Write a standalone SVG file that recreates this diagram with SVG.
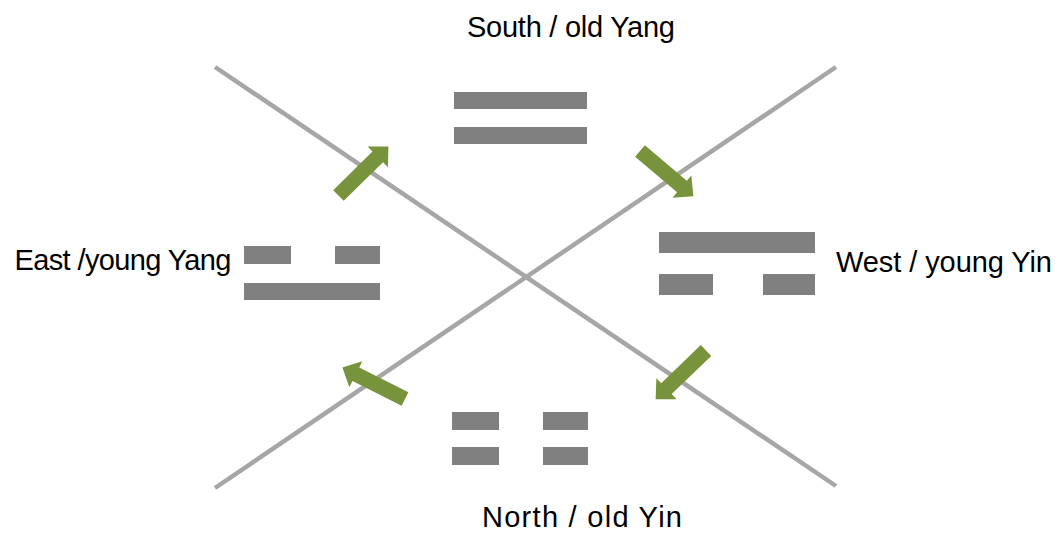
<svg xmlns="http://www.w3.org/2000/svg" width="1058" height="533" viewBox="0 0 1058 533">
<style>
.bar{fill:#808080;filter:url(#soft)}
.axis{stroke:#a6a6a6;stroke-width:4.5;fill:none}
.arr{fill:#77933c}
.lbl{font-family:"Liberation Sans",Arial,sans-serif;font-size:29px;fill:#000}
</style>
<defs>
<filter id="soft" x="-5%" y="-20%" width="110%" height="140%"><feGaussianBlur stdDeviation="0.6"/></filter>
<path id="blockArrow" d="M0,-7.5 L55,-7.5 L55,-14.5 L70,0 L55,14.5 L55,7.5 L0,7.5 Z"/>
</defs>
<g id="connectors">
<line class="axis" x1="215" y1="67" x2="836" y2="486"/>
<line class="axis" x1="836" y1="67" x2="215" y2="488"/>
<use href="#blockArrow" class="arr" transform="translate(338.5,195.5) rotate(-44.5)"/>
<use href="#blockArrow" class="arr" transform="translate(640,151) rotate(40.3)"/>
<use href="#blockArrow" class="arr" transform="translate(706,350.5) rotate(136)"/>
<use href="#blockArrow" class="arr" transform="translate(405,399) rotate(-153.3)"/>
</g>
<g id="south">
<rect class="bar" x="454" y="92" width="133" height="17"/>
<rect class="bar" x="454" y="127" width="133" height="17"/>
<text class="lbl" x="571" y="37" text-anchor="middle" textLength="208">South / old Yang</text>
</g>
<g id="east">
<rect class="bar" x="244" y="246" width="47" height="18"/>
<rect class="bar" x="335" y="246" width="45" height="18"/>
<rect class="bar" x="244" y="283" width="136" height="17"/>
<text class="lbl" x="123" y="270" text-anchor="middle" textLength="217">East /young Yang</text>
</g>
<g id="west">
<rect class="bar" x="659" y="232" width="156" height="21"/>
<rect class="bar" x="659" y="274" width="54" height="21"/>
<rect class="bar" x="763" y="274" width="52" height="21"/>
<text class="lbl" x="944" y="272" text-anchor="middle" textLength="216">West / young Yin</text>
</g>
<g id="north">
<rect class="bar" x="452" y="412" width="47" height="18"/>
<rect class="bar" x="543" y="412" width="45" height="18"/>
<rect class="bar" x="452" y="447" width="47" height="18"/>
<rect class="bar" x="543" y="447" width="45" height="18"/>
<text class="lbl" x="582" y="527" text-anchor="middle" textLength="200">North / old Yin</text>
</g>
</svg>
